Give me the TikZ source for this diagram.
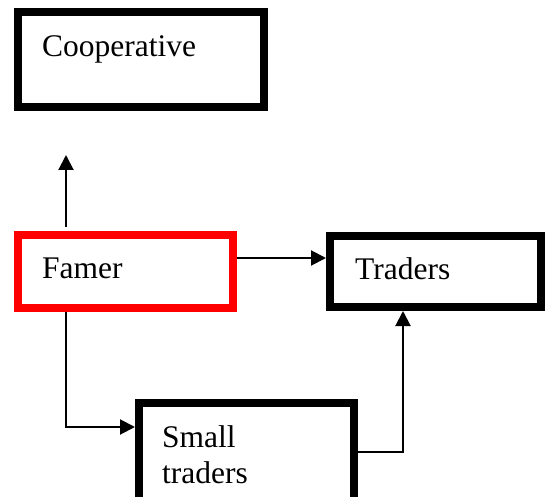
\documentclass[tikz,border=0pt]{standalone}
\usepackage{fontspec}
\setmainfont{Liberation Serif}
\usetikzlibrary{arrows.meta}
\begin{document}
\begin{tikzpicture}[x=1pt,y=-1pt,
  box/.style={draw=black,line width=8pt,fill=white,minimum width=#1,inner sep=0pt},
  lbl/.style={anchor=base west,inner sep=0pt,font=\fontsize{31.5}{37}\selectfont},
  arr/.style={line width=2pt,-{Triangle[length=15pt,width=15pt]}}]
\useasboundingbox (0,0) rectangle (554,497);
\clip (0,0) rectangle (554,497);
\fill[white] (0,0) rectangle (554,497);
\node[box=246pt,minimum height=95pt] (coop) at (141,59.5) {};
\node[box=215pt,minimum height=73pt,draw=red] (famer) at (125.5,271.5) {};
\node[box=211pt,minimum height=71pt] (traders) at (435.5,271.5) {};
\node[box=215pt,minimum height=125pt] (small) at (246.5,465.5) {};
\node[lbl] (tcoop) at (42,57) {Cooperative};
\node[lbl] (tfamer) at (42,278) {Famer};
\node[lbl] (ttraders) at (355,279) {Traders};
\node[lbl] (tsmall1) at (162,447) {Small};
\node[lbl] (tsmall2) at (162,483) {traders};
\coordinate (up) at (66,155);
\draw[arr,shorten <=4pt] (famer.north -| up) -- (up);
\draw[arr] (famer.east |- 0,258) -- (traders.west |- 0,258);
\draw[arr] (famer.south -| up) |- (small.west |- 0,427);
\draw[arr] (small.east |- 0,452) -| (traders.south -| 403,0);
\end{tikzpicture}
\end{document}
